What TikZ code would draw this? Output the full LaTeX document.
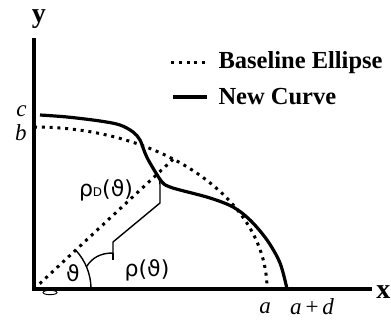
\documentclass[tikz,border=0pt]{standalone}
\usepackage{fontspec}
\setmainfont{Liberation Serif}
\newfontfamily\grkfont{DejaVu Sans}
\begin{document}
\begin{tikzpicture}[x=1pt,y=1pt,
  axisline/.style={line width=3.2pt},
  dotline/.style={line width=3pt, dash pattern=on 3pt off 4.8pt},
  curveline/.style={line width=3.2pt, line join=round},
  markline/.style={line width=1.4pt},
  axislabel/.style={font=\fontsize{28}{28}\selectfont\bfseries},
  ticklabel/.style={font=\fontsize{23}{23}\selectfont\itshape},
  greeklabel/.style={font=\fontsize{22}{22}\selectfont\grkfont},
  legendlabel/.style={font=\fontsize{24.5}{24.5}\selectfont\bfseries, anchor=west}]
  \useasboundingbox (-34,-34) rectangle (357,289);
  \coordinate (O) at (0,0);
  \coordinate (Y) at (0,251);
  \coordinate (X) at (338,0);
  \coordinate (B) at (0,162);
  \coordinate (C) at (6,174);
  \coordinate (AD) at (253,0);
  \coordinate (E) at (139.3,129.9);
  \coordinate (P) at (123.4,114.8);
  \coordinate (Q) at (23:57);
  \coordinate (T) at (79,36);
  % axes
  \draw[axisline] (Y) -- (O) -- (X);
  \draw[line width=0.9pt] (16,-3.5) ellipse (7 and 2.2);
  % baseline ellipse and new curve
  \draw[dotline] (B) arc[start angle=90, end angle=0, x radius=233, y radius=162];
  \draw[curveline] plot[smooth, tension=0.55] coordinates {(C) (33,172) (66,168) (86,164) (99,157)
    (106,149) (111,136) (116,126) (128,107) (136,102) (146,99) (176,91) (199,82) (216,69)
    (233,49) (246,26) (AD)};
  % ray, angle and brace
  \draw[dotline] (O) -- (E);
  \draw[markline] (57,0) arc[start angle=0, end angle=43, radius=57];
  \draw[markline] (Q) .. controls (58,31) and (66,36) .. (T) -- (79,47) -- (126,86) -- (126,104)
    .. controls (126,108) and (125,111) .. (P);
  \draw[markline] (T) -- (79,29);
  % labels
  \node[axislabel] (ylab) at (5,270) {y};
  \node[axislabel, anchor=east, inner sep=0.5pt] (xlab) at (357,-3) {x};
  \node[ticklabel] (clab) at (-12.5,178) {c};
  \node[ticklabel] (blab) at (-13,156) {b};
  \node[ticklabel] (alab) at (231,-19) {a};
  \node[ticklabel] (adlab) at (278,-18) {a\,{\upshape+}\,d};
  \node[greeklabel] (thlab) at (39,16) {ϑ};
  \node[greeklabel] (rholab) at (113,19) {ρ(ϑ)};
  \node[greeklabel] (rhoDlab) at (72,99) {ρ{\fontsize{12}{12}\selectfont D}(ϑ)};
  % legend
  \draw[dotline] (137,226) -- (173,226);
  \draw[curveline] (139,192) -- (173,192);
  \node[legendlabel] (leg1) at (181,226) {Baseline Ellipse};
  \node[legendlabel] (leg2) at (181,192) {New Curve};
\end{tikzpicture}
\end{document}
